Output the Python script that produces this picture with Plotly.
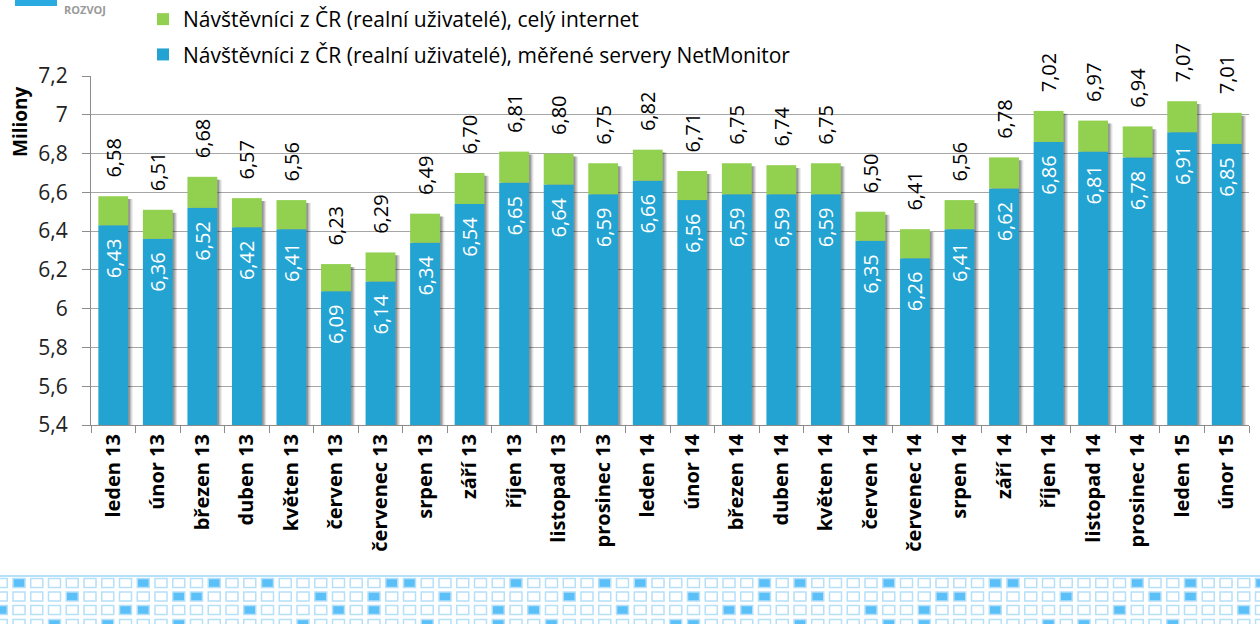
import plotly.graph_objects as go

categories = ["leden 13", "únor 13", "březen 13", "duben 13", "květen 13", "červen 13",
              "červenec 13", "srpen 13", "září 13", "říjen 13", "listopad 13", "prosinec 13",
              "leden 14", "únor 14", "březen 14", "duben 14", "květen 14", "červen 14",
              "červenec 14", "srpen 14", "září 14", "říjen 14", "listopad 14", "prosinec 14",
              "leden 15", "únor 15"]
netmonitor = [6.43, 6.36, 6.52, 6.42, 6.41, 6.09, 6.14, 6.34, 6.54, 6.65, 6.64, 6.59,
              6.66, 6.56, 6.59, 6.59, 6.59, 6.35, 6.26, 6.41, 6.62, 6.86, 6.81, 6.78,
              6.91, 6.85]
internet_total = [6.58, 6.51, 6.68, 6.57, 6.56, 6.23, 6.29, 6.49, 6.70, 6.81, 6.80, 6.75,
                  6.82, 6.71, 6.75, 6.74, 6.75, 6.50, 6.41, 6.56, 6.78, 7.02, 6.97, 6.94,
                  7.07, 7.01]
y_ticks = [5.4, 5.6, 5.8, 6.0, 6.2, 6.4, 6.6, 6.8, 7.0, 7.2]
y_tick_text = ["5,4", "5,6", "5,8", "6", "6,2", "6,4", "6,6", "6,8", "7", "7,2"]
name_green = "Návštěvníci z ČR (realní uživatelé), celý internet"
name_blue = "Návštěvníci z ČR (realní uživatelé), měřené servery NetMonitor"

BLUE = "#22A3D2"
GREEN = "#92D050"
FONT = "Open Sans"
NB = "\u00a0"

def cz(v):
    return f"{v:.2f}".replace(".", ",")

green_len = [t - b for t, b in zip(internet_total, netmonitor)]
W = 0.67

fig = go.Figure()
# soft shadows (decorative)
for off, alpha in [(0.10, 0.10), (0.07, 0.16), (0.04, 0.22)]:
    fig.add_trace(go.Bar(x=categories, y=[t - 0.015 for t in internet_total], width=W,
                         offset=-W / 2 + off, marker=dict(color=f"rgba(0,0,0,{alpha})", line_width=0),
                         showlegend=False, hoverinfo="skip"))
fig.add_trace(go.Bar(x=categories, y=netmonitor, name=name_blue, width=W, offset=-W / 2,
                     marker=dict(color=BLUE, line_width=0),
                     text=[cz(v) + NB * 2 for v in netmonitor], textposition="inside",
                     insidetextanchor="end", textangle=-90, constraintext="none",
                     insidetextfont=dict(color="white", size=20, family=FONT),
                     legendgroup="b", legendrank=2))
fig.add_trace(go.Bar(x=categories, y=green_len, base=netmonitor, name=name_green, width=W,
                     offset=-W / 2, marker=dict(color=GREEN, line_width=0),
                     text=[NB * 3 + cz(v) for v in internet_total], textposition="outside",
                     textangle=-90, constraintext="none",
                     outsidetextfont=dict(color="black", size=20, family=FONT),
                     cliponaxis=False, legendgroup="g", legendrank=1))

def px_x(p):
    return (p - 91) / 1158
def px_y(p):
    return (425 - p) / 349

shapes = []
# logo fragment
shapes.append(dict(type="rect", xref="paper", yref="paper",
                   x0=px_x(15), x1=px_x(57), y0=px_y(6), y1=px_y(-10),
                   fillcolor="#29ABE2", line_width=0, layer="above"))
# bottom decorative pattern
shapes.append(dict(type="line", xref="paper", yref="paper", x0=px_x(0), x1=px_x(1260),
                   y0=px_y(576), y1=px_y(576), line=dict(color="#9FD6F7", width=1.5)))
rows = [583, 596.5, 610, 624]
for r, cy in enumerate(rows):
    for c in range(-1, 72):
        cx = 19 + c * 17.75
        filled = ((c * 3 + r * 5) % 7 == 0) or ((c + r * 2) % 11 == 0)
        shapes.append(dict(type="rect", xref="paper", yref="paper",
                           x0=px_x(cx - 6), x1=px_x(cx + 6), y0=px_y(cy + 4.5), y1=px_y(cy - 4.5),
                           fillcolor="#5BC0F8" if filled else "white",
                           line=dict(color="#B4E0FA", width=1.5)))

fig.update_layout(
    width=1260, height=624,
    margin=dict(l=91, r=11, t=76, b=199, autoexpand=False),
    paper_bgcolor="white", plot_bgcolor="white",
    barmode="overlay",
    font=dict(family=FONT, color="black"),
    showlegend=True,
    legend=dict(x=px_x(143), y=px_y(-1), xanchor="left", yanchor="top",
                font=dict(size=21, family=FONT), traceorder="grouped",
                tracegroupgap=5, itemwidth=30, bgcolor="rgba(0,0,0,0)"),
    xaxis=dict(type="category", tickangle=-90, tickfont=dict(size=20, family=FONT, weight="bold"),
               showline=True, linecolor="#8C8C8C", linewidth=1, ticks="outside", tickson="boundaries",
               ticklen=7, tickcolor="#8C8C8C", showgrid=False, fixedrange=True),
    yaxis=dict(range=[5.4, 7.2], tickvals=y_ticks, ticktext=y_tick_text,
               tickfont=dict(size=21, family=FONT, color="#222"), showgrid=True, gridcolor="#A6A6A6",
               gridwidth=1, showline=True, linecolor="#8C8C8C", linewidth=1, ticks="outside",
               ticklen=8, tickcolor="#8C8C8C", ticklabelstandoff=10, zeroline=False, fixedrange=True),
    shapes=shapes,
    annotations=[
        dict(text="<b>Miliony</b>", xref="paper", yref="paper", x=px_x(20), y=px_y(122),
             xanchor="center", yanchor="middle",
             textangle=-90, showarrow=False, font=dict(size=19, family=FONT)),
        dict(text="<b>ROZVOJ</b>", xref="paper", yref="paper", x=px_x(62), y=px_y(0),
             xanchor="left", yanchor="top", showarrow=False,
             font=dict(size=11, family=FONT, color="#9A9A9A")),
    ],
)

fig.write_html("out.html", config={"displayModeBar": False},
               post_script="document.body.style.margin='0';")
